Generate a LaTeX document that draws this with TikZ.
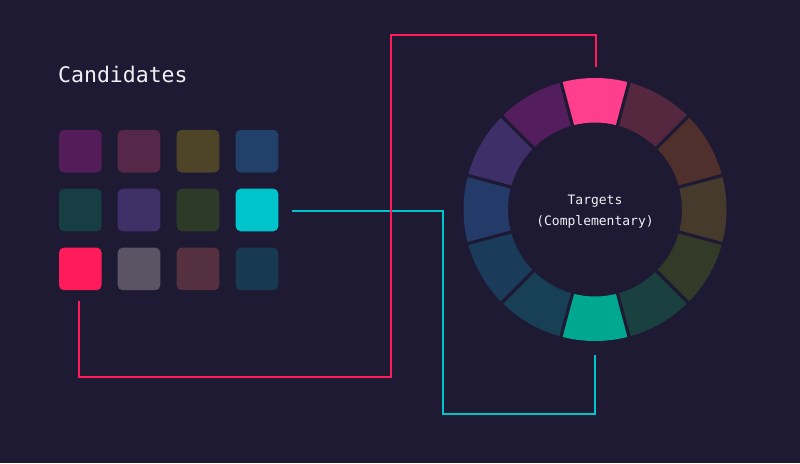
\documentclass[tikz,border=0pt]{standalone}
\usepackage{fontspec}
\setmonofont{DejaVu Sans Mono}
\usetikzlibrary{calc}
\definecolor{bg}{HTML}{1E1A33}
\definecolor{redl}{HTML}{FF1A5A}
\definecolor{cyanl}{HTML}{00C4CC}
\definecolor{c11}{HTML}{551C5A}
\definecolor{c12}{HTML}{55284A}
\definecolor{c13}{HTML}{4E4428}
\definecolor{c14}{HTML}{22416A}
\definecolor{c21}{HTML}{173E45}
\definecolor{c22}{HTML}{3F3068}
\definecolor{c23}{HTML}{2E3A28}
\definecolor{c24}{HTML}{00C4CC}
\definecolor{c31}{HTML}{FF1A5A}
\definecolor{c32}{HTML}{5A5464}
\definecolor{c33}{HTML}{55303F}
\definecolor{c34}{HTML}{173A52}
\definecolor{w0}{HTML}{FF3F8E}
\definecolor{w1}{HTML}{55283F}
\definecolor{w2}{HTML}{50302C}
\definecolor{w3}{HTML}{463A2C}
\definecolor{w4}{HTML}{333B28}
\definecolor{w5}{HTML}{1A4040}
\definecolor{w6}{HTML}{00A88F}
\definecolor{w7}{HTML}{173F55}
\definecolor{w8}{HTML}{1A3B5A}
\definecolor{w9}{HTML}{243A68}
\definecolor{w10}{HTML}{3F2F68}
\definecolor{w11}{HTML}{541D5E}
\definecolor{txt}{HTML}{F0F0F4}
\begin{document}
\begin{tikzpicture}[x=1pt,y=-1pt,
  swatch/.style={rectangle,rounded corners=5pt,minimum width=42.6pt,minimum height=42.6pt,inner sep=0pt,draw=none},
  link/.style={line width=2pt,line join=miter},
  title/.style={font=\ttfamily\fontsize{21.5}{24}\selectfont,text=txt,inner sep=0pt},
  ctext/.style={font=\ttfamily\fontsize{13}{16}\selectfont,text=txt,inner sep=0pt}]
\fill[bg] (0,0) rectangle (800,463);
\useasboundingbox (0,0) rectangle (800,463);
% title
\node[title,anchor=base west] (title) at (58,82.3) {Candidates};
% swatches
\foreach \r/\yy in {1/151.2,2/210,3/268.9}{
  \foreach \c/\xx in {1/80.3,2/139,3/198,4/257}{
    \node[swatch,fill=c\r\c] (s\r\c) at (\xx,\yy) {};
  }
}
% wheel
\coordinate (wc) at (595,209.5);
\def\rin{87}
\def\rout{131.5}
\foreach \i in {0,...,11}{
  \pgfmathsetmacro{\am}{-90+30*\i}
  \pgfmathsetmacro{\aa}{\am-15}
  \pgfmathsetmacro{\ab}{\am+15}
  \fill[w\i] ($(wc)+(\aa:\rout)$) arc[start angle=\aa,end angle=\ab,radius=\rout]
     -- ($(wc)+(\ab:\rin)$) arc[start angle=\ab,end angle=\aa,radius=\rin] -- cycle;
}
\foreach \i in {0,...,11}{
  \pgfmathsetmacro{\ag}{-75+30*\i}
  \draw[bg,line width=3.2pt] ($(wc)+(\ag:\rin-2)$) -- ($(wc)+(\ag:\rout+2)$);
}
\node[circle,minimum size=263pt,inner sep=0pt] (wheel) at (wc) {};
\node[ctext,anchor=base] (t1) at (595,204) {Targets};
\node[ctext,anchor=base] (t2) at (595,225) {(Complementary)};
% connectors
\coordinate (cs) at ($(s24.east)+(13,0.7)$);
\coordinate (ce) at (595.3,355.3);
\draw[cyanl,link] (cs) -- (442.7,210.7) -- (442.7,414) -- (595.3,414) -- (ce);
\coordinate (rs) at ($(s31.south)+(-1,10.7)$);
\coordinate (re) at (595.7,66.7);
\draw[redl,link] (rs) -- (79.3,376.7) -- (390.7,376.7) -- (390.7,34.7) -- (595.7,34.7) -- (re);
\end{tikzpicture}
\end{document}
